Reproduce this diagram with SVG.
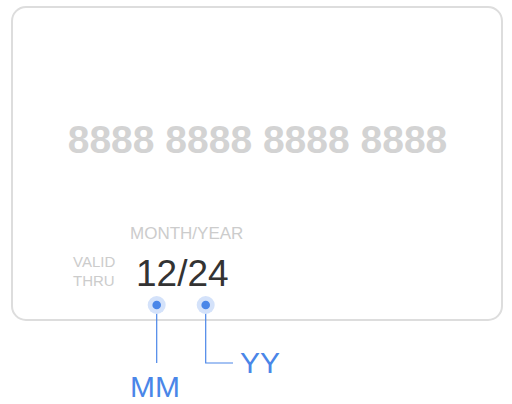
<svg xmlns="http://www.w3.org/2000/svg" width="512" height="404" viewBox="0 0 512 404">
  <style>
    text { font-family: "Liberation Sans", Arial, sans-serif; }
    .num { font-size: 39px; font-weight: bold; fill: #d3d3d3; }
    .lbl { font-size: 17px; fill: #cccccc; }
    .valid { font-size: 15px; fill: #cccccc; }
    .date { font-size: 37px; fill: #333333; }
    .callout { font-size: 30px; fill: #4a86e8; }
    .halo { fill: #d4e2fa; }
    .dot { fill: #4a86e8; }
    .line { fill: none; stroke: #4a86e8; stroke-width: 1.2; }
  </style>
  <rect width="512" height="404" fill="#ffffff"/>
  <g id="card">
    <rect x="12" y="7" width="490" height="313" rx="14" ry="14" fill="#ffffff" stroke="#dddddd" stroke-width="2"/>
    <text class="num" x="257.5" y="153" text-anchor="middle">8888 8888 8888 8888</text>
    <text class="lbl" x="130" y="239">MONTH/YEAR</text>
    <text class="valid" x="73" y="267">VALID</text>
    <text class="valid" x="73" y="286">THRU</text>
    <text class="date" x="136" y="286">12/24</text>
  </g>
  <g id="connectors">
    <path class="line" d="M156.7 305 V363"/>
    <path class="line" d="M205.7 305 V363 H233"/>
  </g>
  <g id="mm">
    <circle class="halo" cx="156.7" cy="305" r="9"/>
    <circle class="dot" cx="156.7" cy="305" r="4.3"/>
    <text class="callout" x="130" y="397">MM</text>
  </g>
  <g id="yy">
    <circle class="halo" cx="205.7" cy="305" r="9"/>
    <circle class="dot" cx="205.7" cy="305" r="4.3"/>
    <text class="callout" x="240" y="373">YY</text>
  </g>
</svg>
